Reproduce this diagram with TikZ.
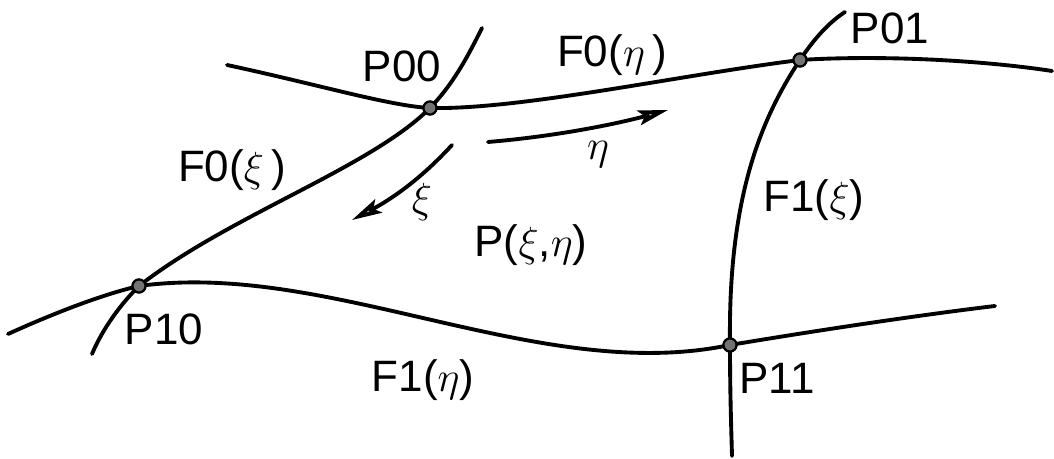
\documentclass[tikz,border=0pt]{standalone}
\usepackage{fontspec}
\setmainfont{Liberation Sans}
\usetikzlibrary{arrows.meta}

\begin{document}
\begin{tikzpicture}[
  x=0.01cm, y=-0.01cm,
  font=\fontsize{12.5}{14}\selectfont,
  >={Stealth[length=0.3cm, width=0.15cm, inset=0.06cm, fill=gray!55]},
  curve/.style={line width=1.1pt, line cap=round},
  corner/.style={circle, draw=black, fill=black!55, line width=0.6pt, inner sep=0pt, minimum size=0.13cm},
  lbl/.style={inner sep=1pt},
  dir/.style={line width=1.1pt, line cap=round, ->}
]
\useasboundingbox (0,0) rectangle (1054,459);

% corner points
\node[corner] (p00) at (430,108) {};
\node[corner] (p01) at (800,60) {};
\node[corner] (p10) at (139,286) {};
\node[corner] (p11) at (730,345) {};

% free ends of the boundary curves
\coordinate (e0l) at (227,65);
\coordinate (e0r) at (1052,71);
\coordinate (e1l) at (8,334);
\coordinate (e1r) at (995,306);
\coordinate (x0t) at (482,28);
\coordinate (x0b) at (92,354);
\coordinate (x1t) at (845,12);
\coordinate (x1b) at (732,456);

% boundary curves
\draw[curve] (e0l) .. controls (320,85) and (390,106) .. (p00.center)
  .. controls (520,110) and (680,75) .. (p01.center)
  .. controls (880,55) and (980,60) .. (e0r);
\draw[curve] (e1l) .. controls (50,315) and (100,295) .. (p10.center)
  .. controls (330,260) and (540,385) .. (p11.center)
  .. controls (820,330) and (920,315) .. (e1r);
\draw[curve] (x0t) .. controls (465,62) and (452,85) .. (p00.center)
  .. controls (370,168) and (230,215) .. (p10.center)
  .. controls (115,310) and (100,335) .. (x0b);
\draw[curve] (x1t) .. controls (825,25) and (810,45) .. (p01.center)
  .. controls (760,120) and (728,200) .. (p11.center)
  .. controls (730,390) and (731,420) .. (x1b);

% redraw the dots on top
\foreach \c in {p00,p01,p10,p11}
  \node[corner] at (\c) {};

% parameter directions
\coordinate (eta0) at (488,142);
\coordinate (eta1) at (668,110);
\coordinate (xi0) at (452,145);
\coordinate (xi1) at (352,220);
\draw[dir] (eta0) .. controls (560,136) and (620,123) .. (eta1);
\draw[dir] (xi0) .. controls (420,180) and (390,200) .. (xi1);

% labels
\node[lbl] (lp00) at (402,66) {P00};
\node[lbl] (lp01) at (890,28) {P01};
\node[lbl] (lp10) at (164,329) {P10};
\node[lbl] (lp11) at (777,378) {P11};
\node[lbl] (lf0eta) at (612,55) {F0($\eta$\,)};
\node[lbl] (lf0xi) at (232,170) {F0($\xi$\,)};
\node[lbl] (lf1xi) at (814,200) {F1($\xi$)};
\node[lbl] (lf1eta) at (423,380) {F1($\eta$)};
\node[lbl] (leta) at (598,155) {$\eta$};
\node[lbl] (lxi) at (422,202) {$\xi$};
\node[lbl] (lpatch) at (531,245) {P($\xi$,$\eta$)};

\end{tikzpicture}
\end{document}
